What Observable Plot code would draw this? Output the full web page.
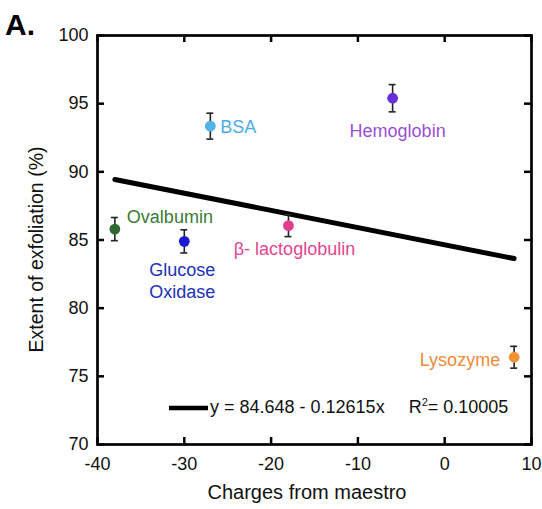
<!DOCTYPE html>
<html>
<head>
<meta charset="utf-8">
<script src="https://cdn.jsdelivr.net/npm/d3@7"></script>
<script src="https://cdn.jsdelivr.net/npm/@observablehq/plot@0.6"></script>
<style>
  body { margin: 0; background: #fff; }
  #chart { position: relative; width: 542px; height: 509px; }
  svg { font-family: "Liberation Sans", Arial, Helvetica, sans-serif; }
</style>
</head>
<body>
<div id="chart"></div>
<script>
// ---- data ----
const proteins = ["Ovalbumin", "Glucose\nOxidase", "BSA", "β- lactoglobulin", "Hemoglobin", "Lysozyme"];
const charges = [-38, -30, -27, -18, -6, 8];
const exfoliation = [85.8, 84.9, 93.35, 86.05, 95.4, 76.4];
const errors = [0.85, 0.85, 0.95, 0.8, 1.0, 0.8];
const dotColors = ["#2e6a2e", "#1a1ad2", "#52b3ea", "#e23d8d", "#6730d8", "#f39234"];
const labelColors = ["#3b7a34", "#2231b8", "#4aade6", "#e0478f", "#9a50d3", "#ee8a3a"];
const xTicks = [-40, -30, -20, -10, 0, 10];
const yTicks = [70, 75, 80, 85, 90, 95, 100];
const fitIntercept = 84.648;
const fitSlope = -0.12615;
const fitR2 = "0.10005";
const xTitle = "Charges from maestro";
const yTitle = "Extent of exfoliation (%)";
const panelTag = "A.";

// ---- build ----
const xDomain = [-40, 10], yDomain = [70, 100];
const rows = proteins.map((name, i) => ({
  name, x: charges[i], y: exfoliation[i], e: errors[i],
  dot: dotColors[i], lab: labelColors[i]
}));
const xMin = d3.min(charges), xMax = d3.max(charges);
const fit = [xMin, xMax].map(x => ({x, y: fitIntercept + fitSlope * x}));

// label placement (pixels, relative to the point)
const place = {
  "Ovalbumin": {textAnchor: "start", dx: 12, dy: -13},
  "Glucose\nOxidase": {textAnchor: "middle", dx: -2, dy: 39},
  "BSA": {textAnchor: "start", dx: 10, dy: 0},
  "β- lactoglobulin": {textAnchor: "middle", dx: 6, dy: 22},
  "Hemoglobin": {textAnchor: "middle", dx: 5, dy: 32},
  "Lysozyme": {textAnchor: "end", dx: -14, dy: 2}
};

const capHalf = 0.4;
const tickLen = 7;
const W = 542, H = 509, ML = 97, MR = 11, MT = 35, MB = 65;
const frameW = W - ML - MR, frameH = H - MT - MB;
// tick length converted to data units of each scale
const tx = tickLen * (xDomain[1] - xDomain[0]) / frameW;
const ty = tickLen * (yDomain[1] - yDomain[0]) / frameH;

const legendMark = (index, scales, values, dim) => {
  const g = d3.create("svg:g");
  const yb = dim.height - dim.marginBottom - 36;
  const x0 = 169;
  g.append("line").attr("x1", x0).attr("x2", x0 + 39).attr("y1", yb).attr("y2", yb)
    .attr("stroke", "#000").attr("stroke-width", 4.5);
  const t = g.append("text").attr("x", x0 + 41).attr("y", yb + 5)
    .attr("text-anchor", "start")
    .attr("font-size", 18).attr("fill", "#111");
  t.append("tspan").text(`y = ${fitIntercept} - ${Math.abs(fitSlope)}x`);
  t.append("tspan").attr("dx", 24).text("R");
  t.append("tspan").attr("dy", -7).attr("font-size", 11).text("2");
  t.append("tspan").attr("dy", 7).text(`= ${fitR2}`);
  return g.node();
};

const titlesMark = (index, scales, values, dim) => {
  const g = d3.create("svg:g").attr("fill", "#111");
  const cx = (dim.marginLeft + dim.width - dim.marginRight) / 2;
  g.append("text").attr("x", cx - 7).attr("y", dim.height - 10)
    .attr("text-anchor", "middle").attr("font-size", 20).text(xTitle);
  g.append("text").attr("transform", `translate(${dim.marginLeft - 54},${(dim.marginTop + dim.height - dim.marginBottom) / 2 + 10}) rotate(-90)`)
    .attr("text-anchor", "middle").attr("font-size", 19.5).text(yTitle);
  g.append("text").attr("x", 5).attr("y", 35).attr("text-anchor", "start")
    .attr("font-size", 30).attr("font-weight", "bold").attr("fill", "#000").text(panelTag);
  return g.node();
};

const tickStyle = {stroke: "#000", strokeWidth: 2.5};

const plot = Plot.plot({
  width: W,
  height: H,
  marginLeft: ML,
  marginRight: MR,
  marginTop: MT,
  marginBottom: MB,
  style: {fontFamily: "Liberation Sans, Arial, sans-serif", color: "#111", background: "#fff"},
  x: {domain: xDomain},
  y: {domain: yDomain},
  marks: [
    Plot.axisX(xTicks, {anchor: "bottom", tickSize: 0, tickPadding: 13, fontSize: 18, label: null, tickFormat: d => String(d)}),
    Plot.axisY(yTicks, {anchor: "left", tickSize: 0, tickPadding: 9, fontSize: 18, label: null, tickFormat: d => String(d)}),
    // inward ticks on all four sides
    Plot.ruleX(xTicks, {x: d => d, y1: yDomain[0], y2: yDomain[0] + ty, ...tickStyle}),
    Plot.ruleX(xTicks, {x: d => d, y1: yDomain[1], y2: yDomain[1] - ty, ...tickStyle}),
    Plot.ruleY(yTicks, {y: d => d, x1: xDomain[0], x2: xDomain[0] + tx, ...tickStyle}),
    Plot.ruleY(yTicks, {y: d => d, x1: xDomain[1], x2: xDomain[1] - tx, ...tickStyle}),
    Plot.frame({stroke: "#000", strokeWidth: 2.7}),
    Plot.line(fit, {x: "x", y: "y", stroke: "#000", strokeWidth: 5}),
    Plot.ruleX(rows, {x: "x", y1: d => d.y - d.e, y2: d => d.y + d.e, stroke: "#222", strokeWidth: 1.6}),
    Plot.ruleY(rows, {y: d => d.y - d.e, x1: d => d.x - capHalf, x2: d => d.x + capHalf, stroke: "#222", strokeWidth: 1.6}),
    Plot.ruleY(rows, {y: d => d.y + d.e, x1: d => d.x - capHalf, x2: d => d.x + capHalf, stroke: "#222", strokeWidth: 1.6}),
    Plot.dot(rows, {x: "x", y: "y", r: 5.4, fill: "dot", stroke: "none"}),
    ...rows.map(r => Plot.text([r], {
      x: "x", y: "y", text: "name", fill: "lab", fontSize: 18, lineHeight: 1.2,
      lineAnchor: "middle", ...place[r.name]
    })),
    legendMark,
    titlesMark
  ]
});
document.getElementById("chart").appendChild(plot);
</script>
</body>
</html>
